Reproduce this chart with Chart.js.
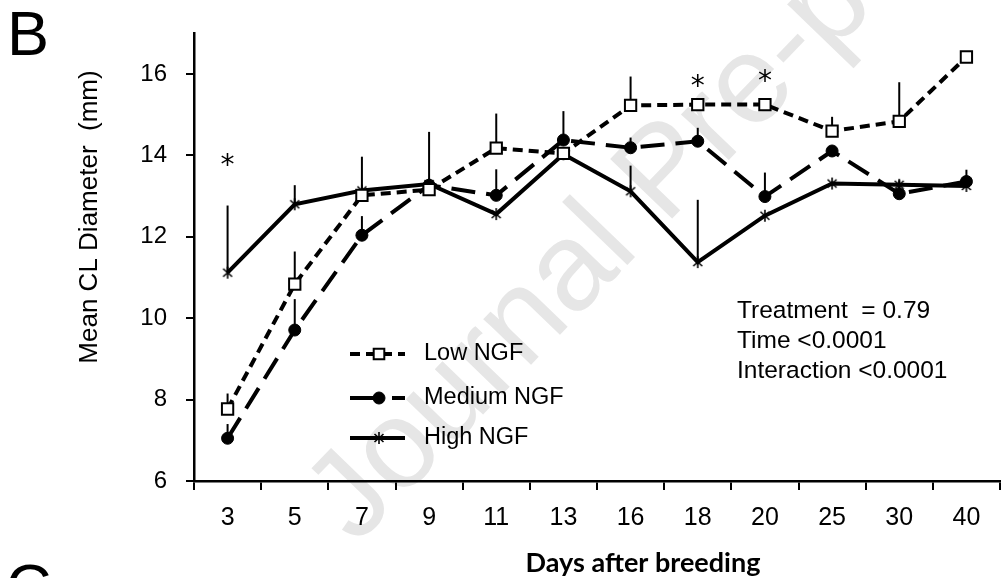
<!DOCTYPE html>
<html><head><meta charset="utf-8">
<script src="https://cdn.jsdelivr.net/npm/chart.js@4.4.1/dist/chart.umd.min.js"></script>
<style>html,body{margin:0;padding:0;background:#fff;overflow:hidden;width:1004px;height:578px}canvas{display:block}</style>
</head><body>
<canvas id="c" width="1010" height="578"></canvas>
<script>
const days = ['3','5','7','9','11','13','16','18','20','25','30','40'];
const lowNGF = [7.77, 10.84, 13.02, 13.16, 14.18, 14.05, 15.23, 15.25, 15.25, 14.60, 14.84, 16.42];
const lowSE = [0.38, 0.80, null, null, 0.85, null, 0.71, null, null, 0.35, 0.96, null];
const mediumNGF = [7.05, 9.71, 12.04, 13.27, 13.02, 14.38, 14.19, 14.35, 12.99, 14.11, 13.06, 13.36];
const mediumSE = [0.35, 0.76, 0.47, null, 0.64, 0.71, 0.25, 0.33, 0.59, null, 0.33, 0.29];
const highNGF = [11.12, 12.80, 13.14, 13.30, 12.56, 14.03, 13.12, 11.38, 12.52, 13.31, 13.28, 13.25];
const highSE = [1.65, 0.47, 0.83, 1.28, null, null, 0.63, 1.53, null, null, null, null];
const yTicks = [6, 8, 10, 12, 14, 16];
const sigDays = ['3', '18', '20'];
const sigLevel = [13.89, 15.83, 15.95];
const seriesNames = ['Low NGF', 'Medium NGF', 'High NGF'];
const statsText = ['Treatment  = 0.79', 'Time <0.0001', 'Interaction <0.0001'];
const panelLabel = 'B';
const nextPanelLabel = 'C';
const xTitle = 'Days after breeding';
const yTitle = 'Mean CL Diameter  (mm)';
const watermark = 'Journal Pre-proof';

const SANS = '"Liberation Sans", Arial, sans-serif';

function makeStar() {
  const c = document.createElement('canvas');
  c.width = 14; c.height = 14;
  const g = c.getContext('2d');
  g.strokeStyle = '#000'; g.lineWidth = 1.6;
  g.beginPath();
  g.moveTo(2.5, 3); g.lineTo(11.5, 11);
  g.moveTo(11.5, 3); g.lineTo(2.5, 11);
  g.moveTo(7, 1); g.lineTo(7, 13);
  g.stroke();
  return c;
}
const starImg = makeStar();

const watermarkPlugin = {
  id: 'watermark',
  beforeDraw(chart) {
    const ctx = chart.ctx;
    ctx.save();
    ctx.translate(356, 546);
    ctx.rotate(-46 * Math.PI / 180);
    ctx.fillStyle = '#e6e6e6';
    ctx.font = '125px ' + SANS;
    ctx.textBaseline = 'alphabetic';
    ctx.textAlign = 'left';
    ctx.fillText(watermark, 0, 0);
    ctx.restore();
  }
};

const errorBars = {
  id: 'errorBars',
  beforeDatasetsDraw(chart) {
    const { ctx, scales: { x, y } } = chart;
    ctx.save();
    ctx.strokeStyle = '#000';
    ctx.lineWidth = 2;
    [[lowNGF, lowSE], [mediumNGF, mediumSE], [highNGF, highSE]].forEach(([m, s]) => {
      m.forEach((v, i) => {
        if (s[i] == null) return;
        const px = x.getPixelForValue(i);
        ctx.beginPath();
        ctx.moveTo(px, y.getPixelForValue(v));
        ctx.lineTo(px, y.getPixelForValue(v + s[i]));
        ctx.stroke();
      });
    });
    ctx.restore();
  }
};

const decorations = {
  id: 'decorations',
  afterDraw(chart) {
    const { ctx, scales: { x, y } } = chart;
    ctx.save();
    ctx.fillStyle = '#000';
    // significance asterisks
    ctx.font = '28px "DejaVu Sans", sans-serif';
    ctx.textAlign = 'center';
    ctx.textBaseline = 'alphabetic';
    const m = ctx.measureText('*');
    const off = (m.actualBoundingBoxAscent - m.actualBoundingBoxDescent) / 2;
    sigDays.forEach((d, i) => {
      ctx.fillText('*', x.getPixelForValue(days.indexOf(d)), y.getPixelForValue(sigLevel[i]) + off);
    });
    // legend
    const rows = [354, 398, 438];
    chart.data.datasets.forEach((ds, i) => {
      const ly = rows[i];
      ctx.save();
      ctx.strokeStyle = '#000';
      ctx.lineWidth = ds.borderWidth;
      ctx.setLineDash(ds.legendDash || []);
      ctx.beginPath(); ctx.moveTo(350, ly); ctx.lineTo(405, ly); ctx.stroke();
      ctx.setLineDash([]);
      ctx.fillStyle = ds.pointBackgroundColor;
      ctx.strokeStyle = '#000';
      ctx.lineWidth = ds.pointBorderWidth;
      Chart.helpers.drawPoint(ctx, { pointStyle: ds.pointStyle, radius: ds.legendRadius, borderWidth: ds.pointBorderWidth, rotation: 0 }, 379, ly);
      ctx.restore();
      ctx.font = '23.5px ' + SANS;
      ctx.textAlign = 'left';
      ctx.textBaseline = 'middle';
      ctx.fillStyle = '#000';
      ctx.fillText(ds.label, 424, ly);
    });
    // stats text
    ctx.font = '24.5px ' + SANS;
    ctx.textAlign = 'left';
    ctx.textBaseline = 'alphabetic';
    statsText.forEach((t, i) => ctx.fillText(t, 737, 318 + i * 30));
    // panel labels
    ctx.font = '63px ' + SANS;
    ctx.fillText(panelLabel, 7, 55);
    ctx.fillText(nextPanelLabel, 6, 608);
    // axis titles
    ctx.font = 'bold 27px Lato, "Open Sans", sans-serif';
    ctx.textAlign = 'center';
    ctx.fillText(xTitle, 643, 572);
    ctx.save();
    ctx.translate(97, 217);
    ctx.rotate(-Math.PI / 2);
    ctx.font = '26px ' + SANS;
    ctx.textAlign = 'center';
    ctx.fillText(yTitle, 0, 0);
    ctx.restore();
    ctx.restore();
  }
};

const axisGrid = (len) => ({ display: true, drawOnChartArea: false, drawTicks: true, tickLength: len, color: '#000', lineWidth: 2 });

new Chart(document.getElementById('c'), {
  type: 'line',
  data: {
    labels: days,
    datasets: [
      { label: seriesNames[0], data: lowNGF, borderColor: '#000', borderWidth: 4, borderDash: [10, 6], legendDash: [10, 6],
        pointStyle: 'rect', pointRadius: 8, legendRadius: 7.5, pointBackgroundColor: '#fff', pointBorderColor: '#000', pointBorderWidth: 2, tension: 0, fill: false },
      { label: seriesNames[1], data: mediumNGF, borderColor: '#000', borderWidth: 4, borderDash: [24, 11], legendDash: [29, 13],
        pointStyle: 'circle', pointRadius: 6, legendRadius: 6, pointBackgroundColor: '#000', pointBorderColor: '#000', pointBorderWidth: 1, tension: 0, fill: false },
      { label: seriesNames[2], data: highNGF, borderColor: '#000', borderWidth: 4,
        pointStyle: starImg, pointRadius: 7, legendRadius: 7, pointBackgroundColor: '#000', pointBorderColor: '#000', pointBorderWidth: 1, tension: 0, fill: false }
    ]
  },
  options: {
    responsive: false,
    animation: false,
    devicePixelRatio: 1,
    layout: { padding: { left: 0, right: 2, top: 30, bottom: 0 } },
    plugins: { legend: { display: false }, tooltip: { enabled: false } },
    scales: {
      x: {
        type: 'category', offset: true,
        grid: Object.assign(axisGrid(9), { offset: true }),
        border: { display: true, color: '#000', width: 2.5 },
        ticks: { color: '#000', font: { family: SANS, size: 25 }, padding: 13, maxRotation: 0, autoSkip: false },
        afterFit(s) { s.height = 97; }
      },
      y: {
        min: 6, max: 17,
        grid: axisGrid(8),
        border: { display: true, color: '#000', width: 2.5 },
        ticks: { color: '#000', font: { family: SANS, size: 24 }, padding: 19 },
        afterBuildTicks(s) { s.ticks = yTicks.map(v => ({ value: v })); },
        afterFit(s) { s.width = 194; }
      }
    }
  },
  plugins: [watermarkPlugin, errorBars, decorations]
});
</script>
</body></html>
